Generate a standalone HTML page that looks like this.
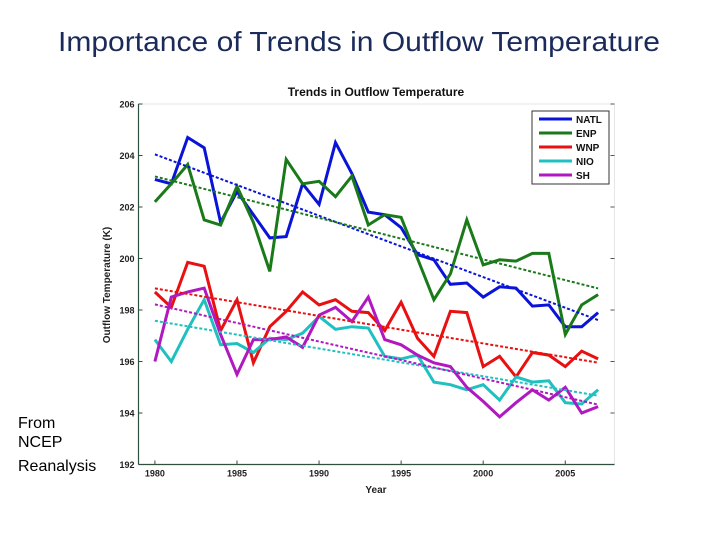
<!DOCTYPE html>
<html><head><meta charset="utf-8"><style>
body{margin:0;background:#fff;width:720px;height:540px;overflow:hidden;font-family:"Liberation Sans",sans-serif}
svg{display:block}
</style></head><body>
<svg id="chart" width="720" height="540" viewBox="0 0 720 540">
<text x="58" y="51" textLength="602" lengthAdjust="spacingAndGlyphs" font-size="28" fill="#1a2a5a">Importance of Trends in Outflow Temperature</text>
<text x="18" y="428" font-size="16" fill="#000">From</text>
<text x="18" y="447" font-size="16" fill="#000">NCEP</text>
<text x="18" y="471" font-size="16" fill="#000">Reanalysis</text>
<text x="376" y="96" text-anchor="middle" font-size="12" font-weight="bold" fill="#111">Trends in Outflow Temperature</text>
<text x="376" y="493" text-anchor="middle" font-size="10" font-weight="bold" fill="#222">Year</text>
<text transform="translate(110,285) rotate(-90)" text-anchor="middle" font-size="10" font-weight="bold" fill="#222">Outflow Temperature (K)</text>
<rect x="138.5" y="104" width="476" height="360.5" fill="none" stroke="#e4e8e4" stroke-width="1"/>
<g id="grid"></g>
<g id="series"></g>
<g id="trends"></g>
<line x1="138.5" y1="104" x2="138.5" y2="464.5" stroke="#2f4f3f" stroke-width="1.2"/>
<line x1="138.5" y1="464.5" x2="614.5" y2="464.5" stroke="#2f4f3f" stroke-width="1.2"/>
<g id="legend">
<rect x="532" y="111" width="77" height="73" fill="#fff" stroke="#333" stroke-width="1"/>
</g>
</svg>
<script>
const years=[1980,1981,1982,1983,1984,1985,1986,1987,1988,1989,1990,1991,1992,1993,1994,1995,1996,1997,1998,1999,2000,2001,2002,2003,2004,2005,2006,2007];
const natl=[203.07,202.9,204.7,204.3,201.4,202.6,201.7,200.8,200.85,202.9,202.1,204.5,203.3,201.8,201.7,201.2,200.15,199.95,199.0,199.05,198.5,198.9,198.85,198.15,198.2,197.35,197.35,197.9];
const enp=[202.2,202.9,203.65,201.5,201.3,202.8,201.4,199.5,203.85,202.9,203.0,202.4,203.2,201.3,201.7,201.6,200.0,198.4,199.4,201.5,199.75,199.95,199.9,200.2,200.2,197.05,198.2,198.6];
const wnp=[198.7,198.1,199.85,199.7,197.2,198.4,195.95,197.35,197.95,198.7,198.2,198.4,197.95,197.9,197.2,198.3,196.9,196.2,197.95,197.9,195.8,196.2,195.4,196.35,196.25,195.8,196.4,196.1];
const nio=[196.85,196.0,197.25,198.4,196.65,196.7,196.35,196.9,196.85,197.1,197.75,197.25,197.35,197.3,196.2,196.1,196.25,195.2,195.1,194.9,195.1,194.5,195.4,195.2,195.25,194.4,194.35,194.9];
const sh=[196.0,198.5,198.7,198.85,197.05,195.5,196.85,196.85,196.95,196.55,197.8,198.1,197.55,198.5,196.85,196.65,196.25,195.95,195.8,195.0,194.45,193.85,194.4,194.9,194.5,195.0,194.0,194.25];
const seriesNames=["NATL","ENP","WNP","NIO","SH"];
const seriesColors=["#0a14d8","#1a7a1a","#e81010","#20c0c0","#b018c0"];
const yTicks=[192,194,196,198,200,202,204,206];
const xTicks=[1980,1985,1990,1995,2000,2005];
const xMin=1979,xMax=2008,yMin=192,yMax=206;
const L=138.5,R=614.5,T=104,B=464.5;
const sx=v=>L+(v-xMin)/(xMax-xMin)*(R-L);
const sy=v=>B-(v-yMin)/(yMax-yMin)*(B-T);
const NS="http://www.w3.org/2000/svg";
const mk=(t,a,p)=>{const e=document.createElementNS(NS,t);for(const k in a)e.setAttribute(k,a[k]);p.appendChild(e);return e;};
const grid=document.getElementById('grid');
yTicks.forEach(v=>{
 const t=mk('text',{x:L-4,y:sy(v)+3.5,'text-anchor':'end','font-size':9,'font-weight':'bold',fill:'#222'},grid);
 t.textContent=v;
 
 
 const tk=mk('line',{x1:L,x2:L+4,y1:sy(v),y2:sy(v),stroke:'#2f4f3f'},grid);
 
 
 const tr=mk('line',{x1:R-4,x2:R,y1:sy(v),y2:sy(v),stroke:'#555'},grid);
 
 
});
xTicks.forEach(v=>{
 const t=mk('text',{x:sx(v),y:B+12,'text-anchor':'middle','font-size':9,'font-weight':'bold',fill:'#222'},grid);
 t.textContent=v;
 
 
 const tk=mk('line',{x1:sx(v),x2:sx(v),y1:B,y2:B-4,stroke:'#2f4f3f'},grid);
 
 
});
const allData=[natl,enp,wnp,nio,sh];
const sg=document.getElementById('series'),tg=document.getElementById('trends');
allData.forEach((d,i)=>{
 const pts=years.map((y,j)=>sx(y).toFixed(1)+','+sy(d[j]).toFixed(1)).join(' ');
 const pl=mk('polyline',{points:pts,fill:'none',stroke:seriesColors[i],'stroke-width':3,'stroke-linejoin':'miter'},sg);
 
 
 const n=years.length,mx=years.reduce((a,b)=>a+b)/n,my=d.reduce((a,b)=>a+b)/n;
 let num=0,den=0;years.forEach((y,j)=>{num+=(y-mx)*(d[j]-my);den+=(y-mx)*(y-mx);});
 const b=num/den,a=my-b*mx;
 const x0=years[0],x1=years[n-1];
 const ln=mk('line',{x1:sx(x0),y1:sy(a+b*x0),x2:sx(x1),y2:sy(a+b*x1),stroke:seriesColors[i],'stroke-width':2,'stroke-dasharray':'3,2'},tg);
 
 
});
const lg=document.getElementById('legend');
seriesNames.forEach((s,i)=>{
 const y=119+i*14;
 const l=mk('line',{x1:539,x2:572,y1:y,y2:y,stroke:seriesColors[i],'stroke-width':3},lg);
 
 
 const t=mk('text',{x:576,y:y+4,'font-size':10,'font-weight':'bold',fill:'#111'},lg);
 t.textContent=s;
 
 
});
</script>
</body></html>
